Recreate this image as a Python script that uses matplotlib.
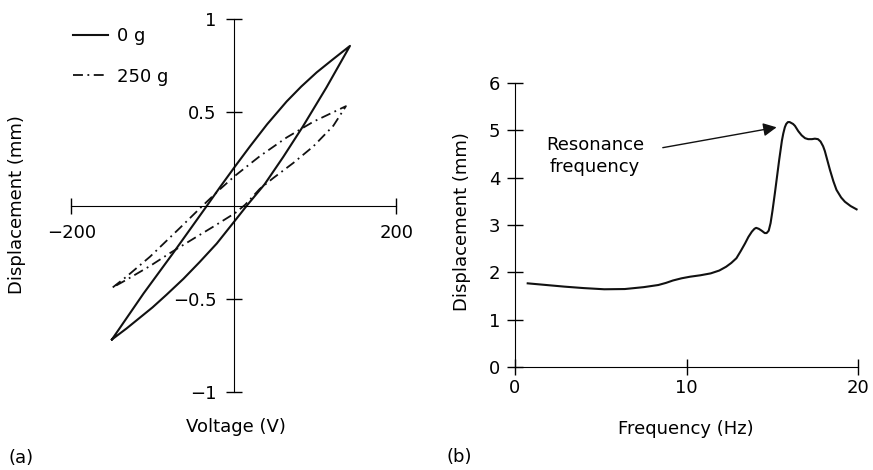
import matplotlib
matplotlib.use('Agg')
import matplotlib.pyplot as plt

plt.rcParams['font.family'] = ['DejaVu Sans']
plt.rcParams['font.size'] = 13

W, H = 873, 470

# (a) hysteresis loops: go up the upper branch, then back down the lower one
volt_0g = [-150, -111, -75, -33, -17, 1.5, 20, 41, 65, 83, 102, 122, 143,
           114, 85, 61, 38, 16, 1.5, -21, -42, -62, -83, -100, -115, -132, -150]
disp_0g = [-0.717, -0.470, -0.256, 0.0, 0.099, 0.21, 0.318, 0.436, 0.558, 0.638, 0.714, 0.784, 0.856,
           0.633, 0.424, 0.262, 0.115, 0.0, -0.08, -0.203, -0.302, -0.392, -0.478, -0.545, -0.598, -0.658, -0.717]

volt_250g = [-149, -132, -103, -66, -39.5, -17, 1.5, 32, 65, 98, 138,
             122.5, 98, 73, 48.6, 32, 14, 1.5, -25, -50, -78.5, -103, -132, -149]
disp_250g = [-0.438, -0.380, -0.273, -0.118, -0.005, 0.088, 0.160, 0.265, 0.365, 0.450, 0.533,
             0.428, 0.318, 0.228, 0.148, 0.09, 0.005, -0.04, -0.112, -0.178, -0.254, -0.323, -0.397, -0.438]

volt_ticks = [-200, 200]
volt_ticklabels = ['\u2212200', '200']
disp_ticks_a = [-1, -0.5, 0.5, 1]
disp_ticklabels_a = ['\u22121', '\u22120.5', '0.5', '1']

# (b) frequency response
freq = [0.74, 2.9, 4.0, 5.2, 6.4, 7.5, 8.35, 8.8, 9.2, 9.7, 10.2, 10.8, 11.4, 11.9,
        12.3, 12.6, 12.9, 13.15, 13.4, 13.6, 13.8, 13.95, 14.05, 14.2, 14.37, 14.55,
        14.66, 14.78, 14.89, 15.0, 15.14, 15.39, 15.55, 15.63, 15.72, 15.8, 15.9, 16.0,
        16.1, 16.2, 16.31, 16.5, 16.7, 16.9, 17.08, 17.3, 17.47, 17.65, 17.8, 17.95,
        18.05, 18.2, 18.35, 18.55, 18.73, 19.0, 19.22, 19.55, 19.9]
disp_b = [1.77, 1.70, 1.67, 1.645, 1.65, 1.69, 1.735, 1.78, 1.83, 1.876, 1.91, 1.94, 1.98, 2.04,
          2.12, 2.2, 2.30, 2.45, 2.61, 2.75, 2.86, 2.92, 2.94, 2.92, 2.88, 2.83,
          2.83, 2.88, 3.04, 3.3, 3.67, 4.37, 4.78, 4.93, 5.06, 5.13, 5.17, 5.17,
          5.15, 5.13, 5.09, 4.98, 4.89, 4.83, 4.81, 4.81, 4.82, 4.81, 4.76, 4.66,
          4.56, 4.36, 4.16, 3.92, 3.74, 3.58, 3.49, 3.40, 3.33]

freq_ticks = [0, 10, 20]
disp_ticks_b = [0, 1, 2, 3, 4, 5, 6]

fig = plt.figure(figsize=(W / 100, H / 100), dpi=100)

# ---- panel (a)
ax1 = fig.add_axes([71.3 / W, 1 - 392.3 / H, 325 / W, 373.3 / H])
ax1.plot(volt_0g, disp_0g, color='#111111', lw=1.5, solid_joinstyle='round', label='0 g')
ax1.plot(volt_250g, disp_250g, color='#111111', lw=1.3,
         linestyle=(0, (5.5, 2.5, 1, 2.5)), label='250 g')
ax1.set_xlim(-200, 200)
ax1.set_ylim(-1, 1)
ax1.spines['left'].set_position(('data', 0))
ax1.spines['bottom'].set_position(('data', 0))
ax1.spines['top'].set_visible(False)
ax1.spines['right'].set_visible(False)
ax1.set_xticks(volt_ticks)
ax1.set_xticklabels(volt_ticklabels)
ax1.set_yticks(disp_ticks_a)
ax1.set_yticklabels(disp_ticklabels_a)
ax1.tick_params(axis='x', direction='inout', length=11.5, width=1, pad=7.5)
ax1.tick_params(axis='y', direction='inout', length=11.5, width=1, pad=6.8)
ax1.patch.set_visible(False)

ax1.legend(loc='upper left', bbox_to_anchor=(72.7 / W, 1 - 27 / H),
           bbox_transform=fig.transFigure, frameon=False, borderpad=0,
           borderaxespad=0, handlelength=1.95, handletextpad=0.5, labelspacing=1.25)

fig.text(17 / W, 1 - 205 / H, 'Displacement (mm)', rotation=90, ha='center', va='center')
fig.text(236 / W, 1 - 427 / H, 'Voltage (V)', ha='center', va='center')
fig.text(8 / W, 1 - 458 / H, '(a)', ha='left', va='center')

# ---- panel (b)
ax2 = fig.add_axes([515 / W, 1 - 367.3 / H, 343.3 / W, 284.6 / H])
ax2.plot(freq, disp_b, color='#111111', lw=1.5, solid_joinstyle='round')
ax2.set_xlim(0, 20)
ax2.set_ylim(0, 6)
ax2.spines['top'].set_visible(False)
ax2.spines['right'].set_visible(False)
ax2.set_xticks(freq_ticks)
ax2.set_yticks(disp_ticks_b)
ax2.tick_params(axis='x', direction='inout', length=11.5, width=1, pad=2.7)
ax2.tick_params(axis='y', direction='inout', length=11.5, width=1, pad=5)
ax2.patch.set_visible(False)

ax2.annotate('', xy=(15.4, 5.07), xytext=(8.45, 4.62),
             arrowprops=dict(arrowstyle='-|>', color='#111111', lw=1, mutation_scale=20))
ax2.text(4.65, 4.45, 'Resonance\nfrequency', ha='center', va='center',
         multialignment='center', linespacing=1.3)

fig.text(462 / W, 1 - 222 / H, 'Displacement (mm)', rotation=90, ha='center', va='center')
fig.text(686 / W, 1 - 429 / H, 'Frequency (Hz)', ha='center', va='center')
fig.text(447 / W, 1 - 457 / H, '(b)', ha='left', va='center')

fig.savefig('out.png', dpi=100)
